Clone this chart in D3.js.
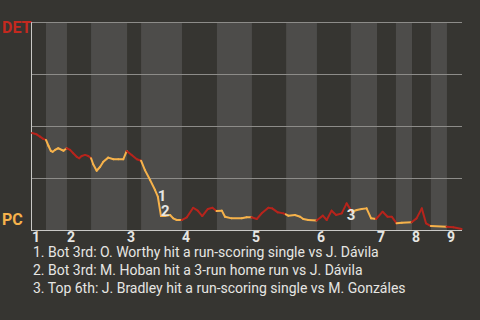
<!DOCTYPE html>
<html>
<head>
<meta charset="utf-8">
<script src="https://cdn.jsdelivr.net/npm/d3@7"></script>
<style>
  html, body { margin: 0; padding: 0; background: #363531; }
  svg { display: block; }
  text { font-family: Roboto, "Noto Sans", sans-serif; }
</style>
</head>
<body>
<svg id="wp" width="480" height="320"></svg>
<script>
// game progress (plays) and DET win probability at each point
const progress = [
  0, 1.3, 2.3, 3.2, 4.0,
  4.7, 5.4, 5.9, 6.6, 7.5, 8.5, 9.0, 9.9,
  10.9, 11.8, 12.8, 13.5, 14.2, 15.2, 16.1, 16.9,
  17.5, 18.5, 19.5, 20.4, 21.8, 23.3, 24.7, 26.1, 27.1,
  28.5, 30.0, 31.2,
  32.3, 33.8, 35.2, 36.0, 36.9, 38.0, 39.5, 40.4, 41.4, 42.8,
  44.3, 46.1, 47.4, 48.7, 50.3, 51.6, 52.8,
  54.3, 55.2, 57.1, 60.0, 61.4, 62.8,
  64.3, 65.7, 67.6, 68.7, 70.3, 71.9, 72.6,
  73.3, 75.2, 76.7, 77.6, 79.0, 81.4,
  83.2, 84.3, 85.7, 87.0, 88.6, 90.0, 91.5,
  92.9, 94.3, 95.7, 97.0, 98.4,
  100.3, 101.7, 102.9, 104.3,
  105.8, 108.6,
  110.0, 111.5, 112.7, 114.1,
  118.6,
  120.5, 122.9
];
const detWinProb = [
  0.466, 0.460, 0.449, 0.438, 0.433,
  0.405, 0.380, 0.376, 0.385, 0.393, 0.385, 0.381, 0.393,
  0.385, 0.369, 0.352, 0.345, 0.356, 0.361, 0.356, 0.345,
  0.316, 0.285, 0.304, 0.328, 0.348, 0.340, 0.340, 0.340, 0.380,
  0.361, 0.340, 0.333,
  0.288, 0.240, 0.192, 0.160, 0.067, 0.067, 0.072, 0.056, 0.048, 0.048,
  0.061, 0.107, 0.093, 0.067, 0.101, 0.107, 0.091,
  0.093, 0.064, 0.056, 0.056, 0.061, 0.061,
  0.053, 0.080, 0.107, 0.104, 0.085, 0.080, 0.075,
  0.069, 0.072, 0.064, 0.053, 0.048, 0.046,
  0.069, 0.048, 0.093, 0.072, 0.080, 0.128, 0.088,
  0.096, 0.101, 0.104, 0.056, 0.053,
  0.088, 0.064, 0.064, 0.032,
  0.035, 0.037,
  0.056, 0.104, 0.032, 0.019,
  0.016,
  0.013, 0.005
];

// where each half inning starts (top 1, bottom 1, top 2, ...)
const halfStarts = [0, 4, 10, 16.9, 27.2, 31.2, 42.9, 52.9, 62.9, 72.7, 81.5, 91.2, 98.7, 104.1, 108.7, 114.1, 118.7];
const gameEnd = 123;
const innings = ['1', '2', '3', '4', '5', '6', '7', '8', '9'];

const teams = ['DET', 'PC'];
const probTicks = [0, 0.25, 0.5, 0.75, 1];

const eventProgress = [36.0, 36.9, 90.0];
const eventProb = [0.160, 0.067, 0.128];
const eventNotes = [
  '1. Bot 3rd: O. Worthy hit a run-scoring single vs J. Dávila',
  '2. Bot 3rd: M. Hoban hit a 3-run home run vs J. Dávila',
  '3. Top 6th: J. Bradley hit a run-scoring single vs M. Gonzáles'
];

const RED = '#b7241c', YELLOW = '#f6b24b';

const svg = d3.select('#wp');

const xScale = d3.scaleLinear().domain([0, gameEnd]).range([32, 462]);
const yScale = d3.scaleLinear().domain([0, 1]).range([230, 22]);

// half inning bands, bottoms shaded
const bands = halfStarts.map((s, i) => ({ start: s, end: i < halfStarts.length - 1 ? halfStarts[i + 1] : gameEnd, bottom: i % 2 === 1 }));

svg.append('g').selectAll('rect').data(bands.filter(d => d.bottom))
  .enter().append('rect')
  .attr('x', d => xScale(d.start))
  .attr('width', d => xScale(d.end) - xScale(d.start))
  .attr('y', yScale(1))
  .attr('height', yScale(0) - yScale(1))
  .attr('fill', '#4d4c4a');

svg.append('g').selectAll('line').data(probTicks.filter(d => d > 0))
  .enter().append('line')
  .attr('x1', xScale(0)).attr('x2', xScale(gameEnd))
  .attr('y1', d => Math.round(yScale(d)) + 0.5)
  .attr('y2', d => Math.round(yScale(d)) + 0.5)
  .attr('stroke', '#8d8c89').attr('stroke-width', 1);

// axis lines
svg.append('line')
  .attr('x1', 31.5).attr('x2', 31.5)
  .attr('y1', yScale(1)).attr('y2', yScale(0) + 1)
  .attr('stroke', '#c9c9c6').attr('stroke-width', 1);
svg.append('line')
  .attr('x1', 31).attr('x2', xScale(gameEnd))
  .attr('y1', yScale(0) + 0.5).attr('y2', yScale(0) + 0.5)
  .attr('stroke', '#c9c9c6').attr('stroke-width', 1);

// win probability line, each segment coloured by the half inning
const pts = progress.map((u, i) => ({ u: u, p: detWinProb[i] }));
const segs = d3.pairs(pts).map(([a, b]) => {
  const mid = (a.u + b.u) / 2;
  const half = d3.bisectRight(halfStarts, mid) - 1;
  return { a, b, top: half % 2 === 0 };
});

svg.append('g').selectAll('line').data(segs)
  .enter().append('line')
  .attr('x1', d => xScale(d.a.u)).attr('y1', d => yScale(d.a.p))
  .attr('x2', d => xScale(d.b.u)).attr('y2', d => yScale(d.b.p))
  .attr('stroke', d => d.top ? RED : YELLOW)
  .attr('stroke-width', 2)
  .attr('stroke-linecap', 'round');

// inning labels
const inningStarts = halfStarts.filter((d, i) => i % 2 === 0);
svg.append('g').selectAll('text').data(innings)
  .enter().append('text')
  .attr('x', (d, i) => xScale(inningStarts[i]))
  .attr('y', 242)
  .attr('fill', '#e6e6e3')
  .style('font-size', '14px')
  .style('font-weight', 'bold')
  .text(d => d);

// team labels
svg.append('text')
  .attr('x', 2).attr('y', 33)
  .attr('fill', '#c4291f')
  .style('font-size', '16px').style('font-weight', 'bold')
  .text(teams[0]);
svg.append('text')
  .attr('x', 2).attr('y', 225)
  .attr('fill', YELLOW)
  .style('font-size', '16px').style('font-weight', 'bold')
  .text(teams[1]);

// event markers
const markerNudge = [4, 0, 17];
svg.append('g').selectAll('text').data(eventProgress)
  .enter().append('text')
  .attr('x', d => xScale(d))
  .attr('y', (d, i) => yScale(eventProb[i]) + markerNudge[i])
  .attr('fill', '#e6e6e3')
  .style('font-size', '15px').style('font-weight', 'bold')
  .text((d, i) => i + 1);

// notes
svg.append('g').selectAll('text').data(eventNotes)
  .enter().append('text')
  .attr('x', 33)
  .attr('y', (d, i) => 257 + i * 18)
  .attr('fill', '#e6e6e3')
  .style('font-size', '14px')
  .text(d => d);
</script>
</body>
</html>
